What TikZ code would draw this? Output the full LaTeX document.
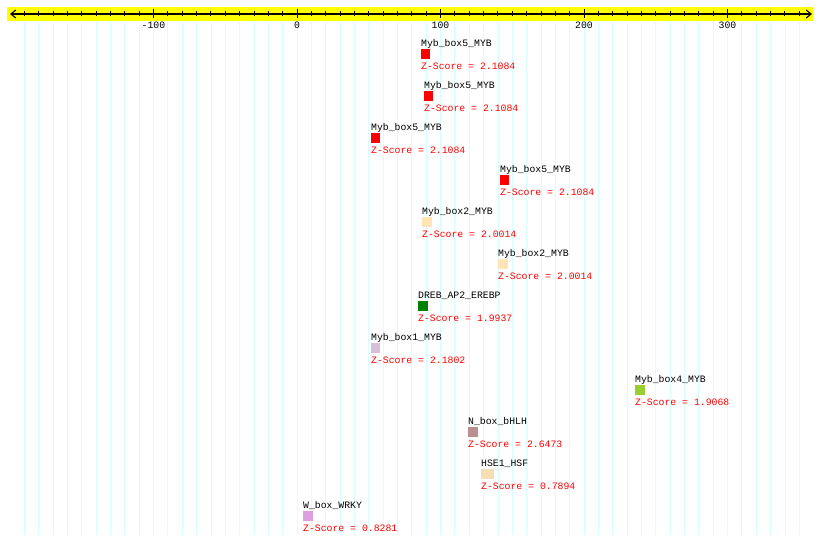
\documentclass[tikz,border=0pt]{standalone}
\usepackage{fontspec}
\setmonofont{Liberation Mono}
\usetikzlibrary{arrows.meta, positioning}
\definecolor{bandyellow}{RGB}{255,255,0}
\definecolor{gridcyan}{RGB}{215,255,255}
\definecolor{zred}{RGB}{255,0,0}
\definecolor{mybfive}{RGB}{255,0,0}
\definecolor{mybtwo}{RGB}{255,228,181}
\definecolor{dreb}{RGB}{0,128,0}
\definecolor{mybone}{RGB}{216,191,216}
\definecolor{mybfour}{RGB}{154,205,50}
\definecolor{nbox}{RGB}{188,143,143}
\definecolor{hse}{RGB}{245,222,179}
\definecolor{wbox}{RGB}{221,160,221}

\begin{document}
\begin{tikzpicture}[x=1pt, y=-1pt,
    every node/.style={font=\ttfamily\fontsize{9.8}{10}\selectfont, inner sep=0pt},
    site/.style={anchor=base west, text=black},
    motif/.style={rectangle, minimum width=9pt, minimum height=10pt, inner sep=0pt},
    zscore/.style={anchor=base west, text=zred},
    ruler/.style={{Straight Barb[length=5pt,width=8pt]}-{Straight Barb[length=5pt,width=8pt]}, line width=1.1pt},
    gridline/.style={gridcyan, line width=0.8pt}
]
    \useasboundingbox (0,0) rectangle (820,545);
    % grid and ruler
    \foreach \u in {-190,-180,...,350}
        \draw[gridline] ({297+1.435*\u},21) -- ({297+1.435*\u},535);
    \fill[bandyellow] (7,7) rectangle (813,21);
    \coordinate (axl) at (10,14);
    \coordinate (axr) at (812,14);
    \draw[ruler] (axl) -- (axr);
    \foreach \u in {-190,-180,...,350}
        \draw[line width=0.9pt] ({297+1.435*\u},11.5) -- ++(0,5);
    \foreach \u [count=\k] in {-100,0,100,200,300} {
        \draw[line width=0.9pt] ({297+1.435*\u},9.5) -- ++(0,9);
        \node[anchor=base] (tl\k) at ({297+1.435*\u},28.5) {\u};
    }

    % binding sites
    \node[site] (l1) at (421,46.5) {Myb\_box5\_MYB};
    \node[motif, fill=mybfive, below right=2.5pt and 0pt of l1.base west] (b1) {};
    \node[zscore, below right=10.5pt and 0pt of b1.south west, anchor=base west] (s1) {Z-Score = 2.1084};

    \node[site] (l2) at (424,88.5) {Myb\_box5\_MYB};
    \node[motif, fill=mybfive, below right=2.5pt and 0pt of l2.base west] (b2) {};
    \node[zscore, below right=10.5pt and 0pt of b2.south west, anchor=base west] (s2) {Z-Score = 2.1084};

    \node[site] (l3) at (371,130.5) {Myb\_box5\_MYB};
    \node[motif, fill=mybfive, below right=2.5pt and 0pt of l3.base west] (b3) {};
    \node[zscore, below right=10.5pt and 0pt of b3.south west, anchor=base west] (s3) {Z-Score = 2.1084};

    \node[site] (l4) at (500,172.5) {Myb\_box5\_MYB};
    \node[motif, fill=mybfive, below right=2.5pt and 0pt of l4.base west] (b4) {};
    \node[zscore, below right=10.5pt and 0pt of b4.south west, anchor=base west] (s4) {Z-Score = 2.1084};

    \node[site] (l5) at (422,214.5) {Myb\_box2\_MYB};
    \node[motif, fill=mybtwo, minimum width=10pt, below right=2.5pt and 0pt of l5.base west] (b5) {};
    \node[zscore, below right=10.5pt and 0pt of b5.south west, anchor=base west] (s5) {Z-Score = 2.0014};

    \node[site] (l6) at (498,256.5) {Myb\_box2\_MYB};
    \node[motif, fill=mybtwo, minimum width=10pt, below right=2.5pt and 0pt of l6.base west] (b6) {};
    \node[zscore, below right=10.5pt and 0pt of b6.south west, anchor=base west] (s6) {Z-Score = 2.0014};

    \node[site] (l7) at (418,298.5) {DREB\_AP2\_EREBP};
    \node[motif, fill=dreb, minimum width=10pt, below right=2.5pt and 0pt of l7.base west] (b7) {};
    \node[zscore, below right=10.5pt and 0pt of b7.south west, anchor=base west] (s7) {Z-Score = 1.9937};

    \node[site] (l8) at (371,340.5) {Myb\_box1\_MYB};
    \node[motif, fill=mybone, below right=2.5pt and 0pt of l8.base west] (b8) {};
    \node[zscore, below right=10.5pt and 0pt of b8.south west, anchor=base west] (s8) {Z-Score = 2.1802};

    \node[site] (l9) at (635,382.5) {Myb\_box4\_MYB};
    \node[motif, fill=mybfour, minimum width=10pt, below right=2.5pt and 0pt of l9.base west] (b9) {};
    \node[zscore, below right=10.5pt and 0pt of b9.south west, anchor=base west] (s9) {Z-Score = 1.9068};

    \node[site] (l10) at (468,424.5) {N\_box\_bHLH};
    \node[motif, fill=nbox, minimum width=10pt, below right=2.5pt and 0pt of l10.base west] (b10) {};
    \node[zscore, below right=10.5pt and 0pt of b10.south west, anchor=base west] (s10) {Z-Score = 2.6473};

    \node[site] (l11) at (481,466.5) {HSE1\_HSF};
    \node[motif, fill=hse, minimum width=13pt, below right=2.5pt and 0pt of l11.base west] (b11) {};
    \node[zscore, below right=10.5pt and 0pt of b11.south west, anchor=base west] (s11) {Z-Score = 0.7894};

    \node[site] (l12) at (303,508.5) {W\_box\_WRKY};
    \node[motif, fill=wbox, minimum width=10pt, below right=2.5pt and 0pt of l12.base west] (b12) {};
    \node[zscore, below right=10.5pt and 0pt of b12.south west, anchor=base west] (s12) {Z-Score = 0.8281};
\end{tikzpicture}
\end{document}
